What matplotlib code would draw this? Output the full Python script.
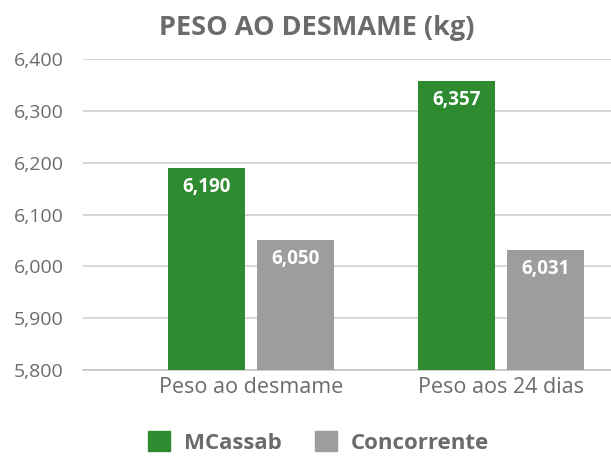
import numpy as np
import matplotlib.pyplot as plt
from matplotlib.patches import Patch

plt.rcParams['font.family'] = ['Open Sans', 'DejaVu Sans']

categories = ["Peso ao desmame", "Peso aos 24 dias"]
series_names = ["MCassab", "Concorrente"]
mcassab = [6.190, 6.357]
concorrente = [6.050, 6.031]
yticks = [5.8, 5.9, 6.0, 6.1, 6.2, 6.3, 6.4]

green = "#2e8b30"
gray = "#9d9d9c"
text_gray = "#6b6b6b"
grid_gray = "#cfcfcf"


def fmt(v):
    return "{:,.3f}".format(v).replace(".", ",")


def main():
    fig = plt.figure(figsize=(6.11, 4.57), dpi=100)
    ax = fig.add_axes([0.136, 0.190, 0.864, 0.681])

    x = np.arange(len(categories))
    w = 0.308
    off = 0.178
    b1 = ax.bar(x - off, mcassab, w, color=green, zorder=3)
    b2 = ax.bar(x + off, concorrente, w, color=gray, zorder=3)

    for bars, vals in ((b1, mcassab), (b2, concorrente)):
        for r, v in zip(bars, vals):
            ax.annotate(fmt(v), (r.get_x() + r.get_width() / 2, v),
                        xytext=(0, -13.5), textcoords="offset points",
                        ha="center", va="center", color="white",
                        fontsize=13.5, fontweight="bold", zorder=4)

    ax.set_ylim(5.8, 6.4)
    ax.set_xlim(-0.672, 1.442)
    ax.set_yticks(yticks)
    ax.set_yticklabels([fmt(t) for t in yticks])
    ax.set_xticks(x)
    ax.set_xticklabels(categories)
    ax.tick_params(axis="y", length=0, pad=14, labelsize=14, labelcolor=text_gray)
    ax.tick_params(axis="x", length=0, pad=5, labelsize=15.5, labelcolor=text_gray)
    ax.yaxis.grid(True, color=grid_gray, linewidth=1.2, zorder=0)
    for s in ("top", "right", "left"):
        ax.spines[s].set_visible(False)
    ax.spines["bottom"].set_color("#c4c4c4")
    ax.spines["bottom"].set_linewidth(1.2)
    ax.set_axisbelow(True)

    fig.text(0.518, 0.939, "PESO AO DESMAME (kg)", ha="center", va="center",
             fontsize=19.5, fontweight="bold", color=text_gray)

    handles = [Patch(color=green), Patch(color=gray)]
    fig.legend(handles, series_names, loc="center", bbox_to_anchor=(0.521, 0.032),
               ncol=2, frameon=False, handlelength=1.0, handleheight=1.0,
               columnspacing=1.5, handletextpad=0.6,
               prop={"size": 16, "weight": "bold"}, labelcolor=text_gray)

    plt.savefig("out.png", dpi=100)


if __name__ == "__main__":
    main()
